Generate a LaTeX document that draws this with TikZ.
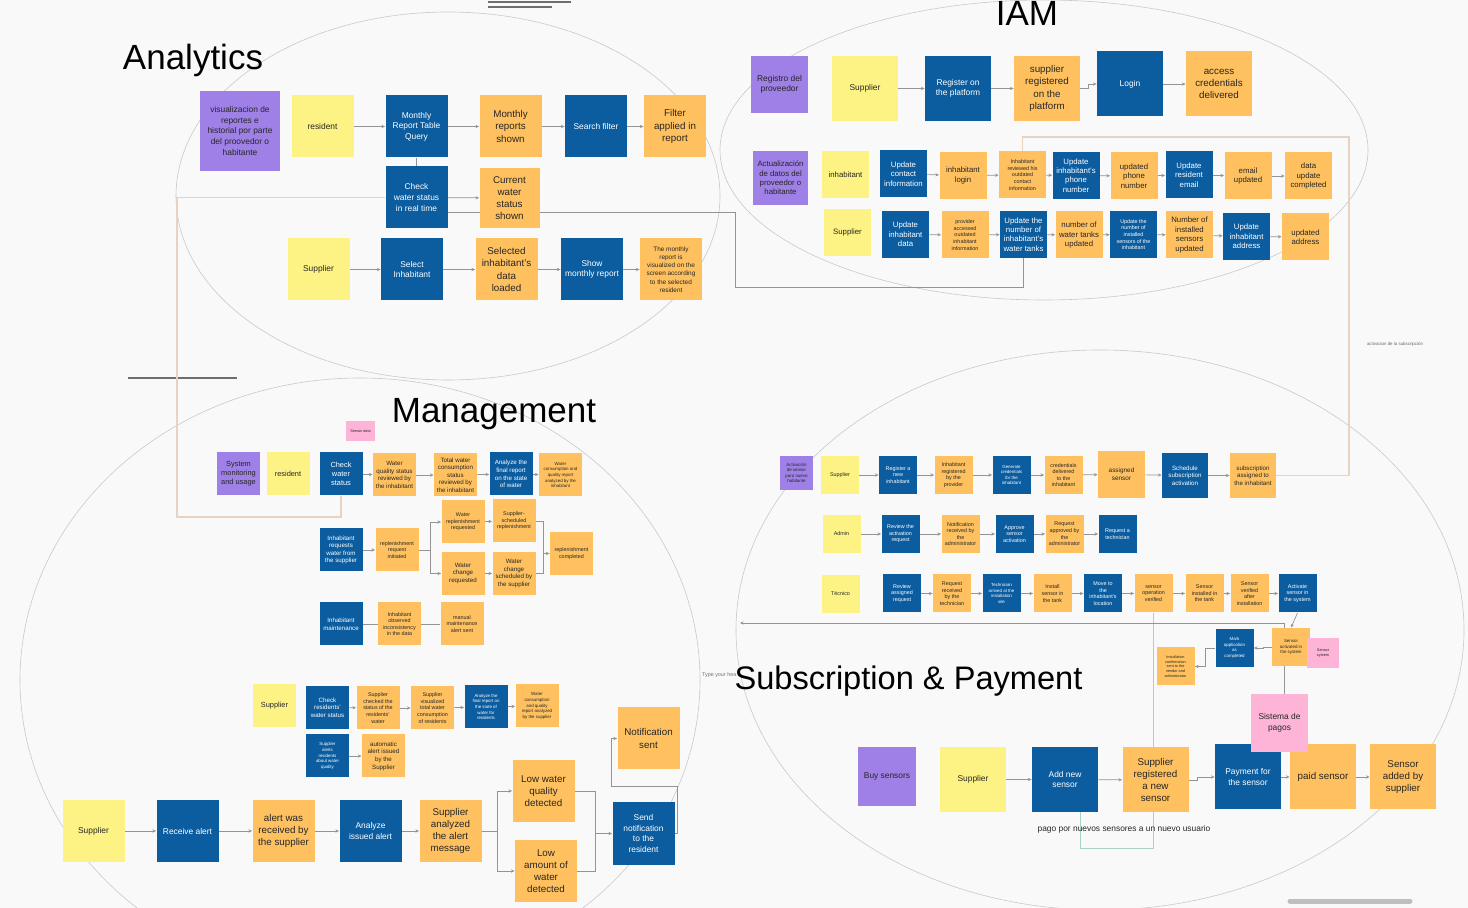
\documentclass[tikz,border=0pt]{standalone}
\usepackage{fontspec}
\setmainfont{Liberation Sans}
\usetikzlibrary{arrows.meta}
\pgfdeclarelayer{bg}
\pgfdeclarelayer{wires}
\pgfsetlayers{bg,wires,main}

\definecolor{cpur}{HTML}{9E80E6}
\definecolor{cyel}{HTML}{FDF384}
\definecolor{cblu}{HTML}{0B5DA0}
\definecolor{cora}{HTML}{FFC15F}
\definecolor{cpnk}{HTML}{FDB4D7}
\definecolor{cbg}{HTML}{F9F9F9}
\definecolor{cline}{HTML}{949494}
\definecolor{ctan}{HTML}{E6D3C2}
\definecolor{cteal}{HTML}{A6D3C2}
\definecolor{cring}{HTML}{C9C9C9}
\definecolor{cdark}{HTML}{6E6E6E}

\newcommand\txT{\fontsize{17.5}{20}\selectfont}
\newcommand\txA{\fontsize{4.9}{6.1}\selectfont}
\newcommand\txB{\fontsize{4.2}{5.3}\selectfont}
\newcommand\txC{\fontsize{3.9}{4.7}\selectfont}
\newcommand\txM{\fontsize{3.7}{4.5}\selectfont}
\newcommand\txS{\fontsize{3.2}{4.1}\selectfont}
\newcommand\txD{\fontsize{3.1}{3.8}\selectfont}
\newcommand\txE{\fontsize{2.7}{3.3}\selectfont}
\newcommand\txF{\fontsize{2.2}{2.8}\selectfont}
\newcommand\txG{\fontsize{1.9}{2.4}\selectfont}

\tikzset{
  card/.style={inner sep=0.5pt, align=center, text=black!85},
  pur/.style={card, fill=cpur},
  yel/.style={card, fill=cyel},
  blu/.style={card, fill=cblu, text=white},
  ora/.style={card, fill=cora},
  pnk/.style={card, fill=cpnk},
  cardXL/.style={minimum width=33pt, minimum height=32.5pt},
  cardL/.style={minimum width=31pt, minimum height=31pt},
  cardM/.style={minimum width=23.5pt, minimum height=23.5pt},
  cardS/.style={minimum width=21.5pt, minimum height=21.5pt},
  cardXS/.style={minimum width=19pt, minimum height=19pt},
  heading/.style={font=\txT, anchor=base, inner sep=0pt},
  flowline/.style={draw=cline, line width=0.35pt, -{Stealth[length=1.8pt,width=1.6pt]}},
  plainline/.style={draw=cline, line width=0.35pt},
  tanline/.style={draw=ctan, line width=0.6pt},
  tealline/.style={draw=cteal, line width=0.5pt},
  ring/.style={draw=cring, line width=0.3pt}
}

\begin{document}
\begin{tikzpicture}[x=0.5pt,y=-0.5pt]
\useasboundingbox (0,0) rectangle (1468,908);

\begin{pgfonlayer}{bg}
  \fill[cbg] (0,0) rectangle (1468,908);
  \begin{scope}
    \clip (0,0) rectangle (1468,908);
    \draw[ring] (448,196) ellipse [x radius=136pt, y radius=92pt];
    \draw[ring] (1044,150) ellipse [x radius=162pt, y radius=75pt];
    \draw[ring] (360,680) ellipse [x radius=170pt, y radius=151pt];
    \draw[ring] (1100,630) ellipse [x radius=182pt, y radius=140pt];
  \end{scope}
  \draw[cdark, line width=0.8pt] (488,2) -- (571,2);
  \draw[cdark, line width=0.8pt] (488,7) -- (552,7);
  \draw[cdark, line width=0.7pt] (128,378) -- (237,378);
  \draw[black!25, line width=2.5pt, line cap=round] (1290,901) -- (1410,901);
\end{pgfonlayer}

% Analytics
\node[heading] (tana) at (193,70) {Analytics};
\node[pur, font=\txB, minimum width=40pt, minimum height=40pt] (avis) at (240,131) {visualizacion de\\reportes e\\historial por parte\\del proovedor o\\habitante};
\node[yel, cardL, font=\txB] (ares) at (322.5,126.5) {resident};
\node[blu, cardL, font=\txB] (aqry) at (416.5,126.5) {Monthly\\Report Table\\Query};
\node[ora, cardL, font=\txA] (ashw) at (510.5,126.5) {Monthly\\reports\\shown};
\node[blu, cardL, font=\txB] (afil) at (596,126.5) {Search filter};
\node[ora, cardL, font=\txA] (aapl) at (675,126.5) {Filter\\applied in\\report};
\node[blu, cardL, font=\txB] (achk) at (416.5,197.5) {Check\\water status\\in real time};
\node[ora, font=\txA, minimum width=30pt, minimum height=30pt] (acur) at (509.5,198) {Current\\water\\status\\shown};
\node[yel, cardL, font=\txB] (asup) at (318.5,269.5) {Supplier};
\node[blu, cardL, font=\txB] (asel) at (412,269.5) {Select\\Inhabitant};
\node[ora, cardL, font=\txA] (adat) at (506.5,269.5) {Selected\\inhabitant's\\data\\loaded};
\node[blu, cardL, font=\txB] (ashm) at (592,269.5) {Show\\monthly report};
\node[ora, cardL, font=\txS] (avsz) at (671,269.5) {The monthly\\report is\\visualized on the\\screen according\\to the selected\\resident};

% IAM
\node[heading] (tiam) at (1027,26) {IAM};
\node[pur, font=\txB, minimum width=28.5pt, minimum height=28.5pt] (ireg) at (779.5,84.5) {Registro del\\proveedor};
\node[yel, cardXL, font=\txB] (isup) at (865,88.5) {Supplier};
\node[blu, cardXL, font=\txB] (iplt) at (958,88.5) {Register on\\the platform};
\node[ora, cardXL, font=\txA] (idone) at (1047,88.5) {supplier\\registered\\on the\\platform};
\node[blu, cardXL, font=\txB] (ilog) at (1130,84) {Login};
\node[ora, cardXL, font=\txA] (icrd) at (1219,84) {access\\credentials\\delivered};

\node[pur, font=\txC, minimum width=27.5pt, minimum height=27pt] (iact) at (780.5,178) {Actualización\\de datos del\\proveedor o\\habitante};
\node[yel, cardM, font=\txC] (iinh) at (845.5,174.5) {inhabitant};
\node[blu, cardM, font=\txC] (icon) at (903.5,174) {Update\\contact\\information};
\node[ora, cardM, font=\txC] (ilgn) at (963,175.5) {inhabitant\\login};
\node[ora, cardM, font=\txE] (irev) at (1022.5,175) {Inhabitant\\reviewed his\\outdated\\contact\\information};
\node[blu, cardM, font=\txC] (iphn) at (1076,175.5) {Update\\inhabitant's\\phone\\number};
\node[ora, cardM, font=\txC] (iphu) at (1134,176) {updated\\phone\\number};
\node[blu, cardM, font=\txC] (ieml) at (1189,175) {Update\\resident\\email};
\node[ora, cardM, font=\txC] (iemu) at (1248,176) {email\\updated};
\node[ora, cardM, font=\txC] (iupd) at (1308.5,176) {data\\update\\completed};

\node[yel, cardM, font=\txC] (isup2) at (847.5,232.5) {Supplier};
\node[blu, cardM, font=\txC] (idat) at (905.5,234.5) {Update\\inhabitant\\data};
\node[ora, cardM, font=\txE] (iacc) at (965,235) {provider\\accessed\\outdated\\inhabitant\\information};
\node[blu, cardM, font=\txC] (itnk) at (1023.5,234.5) {Update the\\number of\\inhabitant's\\water tanks};
\node[ora, cardM, font=\txC] (itku) at (1079,235) {number of\\water tanks\\updated};
\node[blu, cardM, font=\txE] (isns) at (1133.5,234.5) {Update the\\number of\\installed\\sensors of the\\inhabitant};
\node[ora, cardM, font=\txC] (isnu) at (1189.5,235) {Number of\\installed\\sensors\\updated};
\node[blu, cardM, font=\txC] (iadr) at (1246.5,236.5) {Update\\inhabitant\\address};
\node[ora, cardM, font=\txC] (iadu) at (1305.5,237) {updated\\address};
\node[font=\txF, text=black!60] (lact) at (1395,344) {activacion de la subscripción};

% Management
\node[heading] (tman) at (494,423) {Management};
\node[pnk, font=\txG, minimum width=14.5pt, minimum height=10pt] (msen) at (360.5,431) {Sensor data};
\node[pur, cardS, font=\txM] (msys) at (238.5,474) {System\\monitoring\\and usage};
\node[yel, cardS, font=\txM] (mres) at (288,473.5) {resident};
\node[blu, cardS, font=\txM] (mchk) at (341,474) {Check\\water\\status};
\node[ora, cardS, font=\txD] (mqly) at (394.5,475) {Water\\quality status\\reviewed by\\the inhabitant};
\node[ora, cardS, font=\txD] (mtot) at (455.5,475) {Total water\\consumption\\status\\reviewed by\\the inhabitant};
\node[blu, cardS, font=\txD] (mfin) at (511,474) {Analyze the\\final report\\on the state\\of water};
\node[ora, cardS, font=\txF] (mrep) at (560.5,475) {Water\\consumption and\\quality report\\analyzed by the\\inhabitant};

\node[blu, cardS, font=\txD] (mreq) at (341,550) {Inhabitant\\requests\\water from\\the supplier};
\node[ora, cardS, font=\txE] (mini) at (397,550) {replenishment\\request\\initiated};
\node[ora, cardS, font=\txE] (mwrr) at (463,522) {Water\\replenishment\\requested};
\node[ora, cardS, font=\txE] (mssr) at (514,521) {Supplier-\\scheduled\\replenishment};
\node[ora, cardS, font=\txD] (mwcr) at (463,573.5) {Water\\change\\requested};
\node[ora, cardS, font=\txD] (mwcs) at (514,573.5) {Water\\change\\scheduled by\\the supplier};
\node[ora, cardS, font=\txE] (mcmp) at (571.5,553.5) {replenishment\\completed};
\coordinate (msplit) at (430,550);
\coordinate (mjoin) at (543,553.5);

\node[blu, cardS, font=\txD] (mmnt) at (341,624) {Inhabitant\\maintenance};
\node[ora, cardS, font=\txE] (mobs) at (399.5,624) {Inhabitant\\observed\\inconsistency\\in the data};
\node[ora, cardS, font=\txE] (malr) at (462,624) {manual\\maintenance\\alert sent};

\node[yel, cardS, font=\txM] (msup) at (274.5,705.5) {Supplier};
\node[blu, cardS, font=\txD] (mrws) at (327.5,707.5) {Check\\residents'\\water status};
\node[ora, cardS, font=\txE] (mcks) at (378,708) {Supplier\\checked the\\status of the\\residents'\\water};
\node[ora, cardS, font=\txE] (mvis) at (432.5,708) {Supplier\\visualized\\total water\\consumption\\of residents};
\node[blu, cardS, font=\txF] (mfnr) at (486,707) {Analyze the\\final report on\\the state of\\water for\\residents};
\node[ora, cardS, font=\txF] (mqrs) at (537,706) {Water\\consumption\\and quality\\report analyzed\\by the supplier};
\node[blu, cardS, font=\txF] (malt) at (327.5,756) {Supplier\\alerts\\residents\\about water\\quality};
\node[ora, cardS, font=\txD] (mauto) at (383.5,756) {automatic\\alert issued\\by the\\Supplier};

\node[yel, cardL, font=\txB] (bsup) at (93.5,831) {Supplier};
\node[blu, cardL, font=\txB] (brcv) at (187.5,831) {Receive alert};
\node[ora, cardL, font=\txA] (bgot) at (283.5,831) {alert was\\received by\\the supplier};
\node[blu, cardL, font=\txB] (bana) at (370.5,831) {Analyze\\issued alert};
\node[ora, cardL, font=\txA] (bmsg) at (450.5,831) {Supplier\\analyzed\\the alert\\message};
\node[ora, cardL, font=\txA] (blwq) at (543.5,791) {Low water\\quality\\detected};
\node[ora, cardL, font=\txA] (blam) at (546,871) {Low\\amount of\\water\\detected};
\node[blu, cardL, font=\txB] (bsnd) at (643.5,833.5) {Send\\notification\\to the\\resident};
\node[ora, cardL, font=\txA] (bnot) at (648.5,738.5) {Notification\\sent};
\coordinate (bsplit) at (497,831);
\coordinate (bjoin) at (595,833.5);

% Subscription & Payment
\node[font=\txE, text=black!55, anchor=west] (lhdg) at (695,675) {Type your hea};
\node[heading, font=\fontsize{16.3}{19}\selectfont] (tsub) at (908.5,690) {Subscription \& Payment};
\node[pur, font=\txF, minimum width=16.5pt, minimum height=17pt] (sact) at (796.5,473) {Activación\\de sensor\\para nuevo\\habitante};
\node[yel, cardXS, font=\txE] (ssup) at (840,475) {Supplier};
\node[blu, cardXS, font=\txE] (snew) at (898,475) {Register a\\new\\inhabitant};
\node[ora, cardXS, font=\txE] (sreg) at (953.5,475) {Inhabitant\\registered\\by the\\provider};
\node[blu, cardXS, font=\txF] (sgen) at (1011.5,475) {Generate\\credentials\\for the\\inhabitant};
\node[ora, cardXS, font=\txE] (scrd) at (1063.5,475) {credentials\\delivered\\to the\\inhabitant};
\node[ora, font=\txS, minimum width=23.5pt, minimum height=23.5pt] (sasg) at (1121.5,474.5) {assigned\\sensor};
\node[blu, font=\txD, minimum width=23pt, minimum height=22.5pt] (ssch) at (1185,475.5) {Schedule\\subscription\\activation};
\node[ora, font=\txD, minimum width=23pt, minimum height=22.5pt] (ssub) at (1253,475.5) {subscription\\assigned to\\the inhabitant};

\node[yel, cardXS, font=\txE] (sadm) at (841.5,534) {Admin};
\node[blu, cardXS, font=\txE] (srev) at (900.5,534) {Review the\\activation\\request};
\node[ora, cardXS, font=\txE] (snot) at (960.5,534) {Notification\\received by\\the\\administrator};
\node[blu, cardXS, font=\txE] (sapp) at (1014.5,534) {Approve\\sensor\\activation};
\node[ora, cardXS, font=\txE] (sapr) at (1064.5,534) {Request\\approved by\\the\\administrator};
\node[blu, cardXS, font=\txE] (stec) at (1117.5,534) {Request a\\technician};

\node[yel, cardXS, font=\txE] (stco) at (840.5,594) {Técnico};
\node[blu, cardXS, font=\txE] (sasr) at (902,593.5) {Review\\assigned\\request};
\node[ora, cardXS, font=\txE] (srcv) at (952,593.5) {Request\\received\\by the\\technician};
\node[blu, cardXS, font=\txF] (sarr) at (1001.5,593.5) {Technician\\arrived at the\\installation\\site};
\node[ora, cardXS, font=\txE] (sins) at (1052.5,593.5) {Install\\sensor in\\the tank};
\node[blu, cardXS, font=\txE] (smov) at (1103,593.5) {Move to\\the\\inhabitant's\\location};
\node[ora, cardXS, font=\txE] (sopv) at (1153.5,593.5) {sensor\\operation\\verified};
\node[ora, cardXS, font=\txE] (sitk) at (1204.5,593.5) {Sensor\\installed in\\the tank};
\node[ora, cardXS, font=\txE] (svaf) at (1249.5,593.5) {Sensor\\verified\\after\\installation};
\node[blu, cardXS, font=\txE] (sonl) at (1297.5,593.5) {Activate\\sensor in\\the system};

\node[ora, cardXS, font=\txG] (scnf) at (1175.5,666.5) {Installation\\confirmation\\sent to the\\vendor and\\administrator};
\node[blu, cardXS, font=\txF] (smrk) at (1234.5,648) {Mark\\application\\as\\completed};
\node[ora, cardXS, font=\txF] (sacd) at (1291,647) {Sensor\\activated in\\the system};
\node[pnk, font=\txG, minimum width=16pt, minimum height=15pt] (ssys) at (1323,653) {Sensor\\system};

\node[pur, font=\txB, minimum width=29pt, minimum height=29.5pt] (sbuy) at (887,776.5) {Buy sensors};
\node[yel, cardXL, font=\txB] (spsu) at (973,779.5) {Supplier};
\node[blu, cardXL, font=\txB] (sadd) at (1065,779.5) {Add new\\sensor};
\node[ora, cardXL, font=\txA] (ssrn) at (1155.5,780) {Supplier\\registered\\a new\\sensor};
\node[blu, cardXL, font=\txB] (spay) at (1248,777) {Payment for\\the sensor};
\node[ora, cardXL, font=\txA] (spdd) at (1323,777) {paid sensor};
\node[ora, cardXL, font=\txA] (sadb) at (1403,777) {Sensor\\added by\\supplier};
\node[pnk, font=\txB, minimum width=28.5pt, minimum height=29pt] (spgs) at (1279.5,723) {Sistema de\\pagos};
\node[font=\txB, anchor=base, text=black!85] (slbl) at (1124,831) {pago por nuevos sensores a un nuevo usuario};
\coordinate (subend) at (740,623);

\begin{pgfonlayer}{wires}
  \foreach \a/\b in {ares/aqry, aqry/ashw, ashw/afil, afil/aapl, achk/acur,
                     asup/asel, asel/adat, adat/ashm, ashm/avsz}
    \draw[flowline] (\a) -- (\b);
  \draw[plainline] (aqry) -- (achk);
  \draw[plainline] ([yshift=-7.25pt]achk.east) -- (735,212) |- (1023.5,287) -- (itnk.south);
  \draw[tanline] (achk.west) -| (177,517) -| (mchk.south);

  \draw[flowline] (isup) -- (iplt);
  \draw[flowline] (iplt) -- (idone);
  \draw[flowline] (idone.east) -- ++(8,0) |- (ilog.west);
  \draw[flowline] (ilog) -- (icrd);
  \foreach \a/\b in {icon/ilgn, ilgn/irev, irev/iphn, iphn/iphu, iphu/ieml, ieml/iemu, iemu/iupd,
                     idat/iacc, iacc/itnk, itnk/itku, itku/isns, isns/isnu, isnu/iadr, iadr/iadu}
    \draw[flowline] (\a) -- (\b);
  \draw[tanline] (irev.north) |- (1349,137) |- (ssub.east);

  \foreach \a/\b in {mchk/mqly, mqly/mtot, mtot/mfin, mfin/mrep, mreq/mini, mwrr/mssr, mwcr/mwcs,
                     mrws/mcks, mcks/mvis, mvis/mfnr, mfnr/mqrs, malt/mauto,
                     bsup/brcv, brcv/bgot, bgot/bana, bana/bmsg}
    \draw[flowline] (\a) -- (\b);
  \draw[plainline] (mmnt) -- (mobs);
  \draw[plainline] (mobs) -- (malr);
  \draw[plainline] (mini) -- (msplit);
  \draw[flowline] (msplit) |- (mwrr.west);
  \draw[flowline] (msplit) |- (mwcr.west);
  \draw[plainline] (mssr.east) -| (mjoin);
  \draw[plainline] (mwcs.east) -| (mjoin);
  \draw[flowline] (mjoin) -- (mcmp.west);
  \draw[plainline] (bmsg) -- (bsplit);
  \draw[flowline] (bsplit) |- (blwq.west);
  \draw[flowline] (bsplit) |- (blam.west);
  \draw[plainline] (blwq.east) -| (bjoin);
  \draw[plainline] (blam.east) -| (bjoin);
  \draw[flowline] (bjoin) -- (bsnd.west);
  \draw[flowline] (bsnd.east) -- ++(2,0) |- (611,786) |- (bnot.west);

  \foreach \a/\b in {ssup/snew, snew/sreg, sreg/sgen, sgen/scrd, scrd/sasg, sasg/ssch, ssch/ssub,
                     sadm/srev, srev/snot, snot/sapp, sapp/sapr, sapr/stec,
                     sasr/srcv, srcv/sarr, sarr/sins, sins/smov, smov/sopv, sopv/sitk, sitk/svaf, svaf/sonl,
                     spsu/sadd, sadd/ssrn, spay/spdd, spdd/sadb}
    \draw[flowline] (\a) -- (\b);
  \draw[flowline] (sonl.south) -- (sacd.north);
  \draw[flowline] (sacd.west) -- ++(-8,0) |- (smrk.east);
  \draw[flowline] (smrk.west) -- ++(-10,0) |- (scnf.east);
  \draw[flowline] (ssrn.east) -- ++(8,0) |- (spay.west);
  \draw[tealline] (sopv.south) -- (1153.5,848) -| ([xshift=7.5pt]sadd.south);
  \draw[flowline] ([xshift=1.5pt]spay.north east) |- (subend);
\end{pgfonlayer}
\end{tikzpicture}
\end{document}
